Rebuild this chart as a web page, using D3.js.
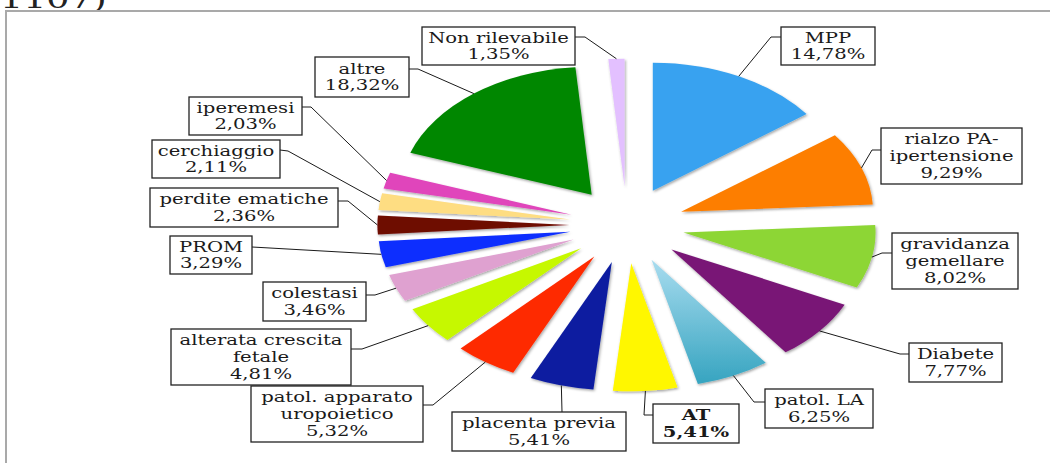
<!DOCTYPE html>
<html>
<head>
<meta charset="utf-8">
<script src="https://cdn.jsdelivr.net/npm/d3@7"></script>
<style>
  html, body { margin: 0; padding: 0; background: #fff; }
  svg { display: block; }
</style>
</head>
<body>
<svg id="chart" width="1050" height="463"></svg>
<script>
// ---- data ----
const categories = ["MPP", "rialzo PA-ipertensione", "gravidanza gemellare", "Diabete", "patol. LA", "AT",
  "placenta previa", "patol. apparato uropoietico", "alterata crescita fetale", "colestasi", "PROM",
  "perdite ematiche", "cerchiaggio", "iperemesi", "altre", "Non rilevabile"];
const values = [14.78, 9.29, 8.02, 7.77, 6.25, 5.41, 5.41, 5.32, 4.81, 3.46, 3.29, 2.36, 2.11, 2.03, 18.32, 1.35];
const labelLines = [["MPP"], ["rialzo PA-", "ipertensione"], ["gravidanza", "gemellare"], ["Diabete"], ["patol. LA"], ["AT"],
  ["placenta previa"], ["patol. apparato", "uropoietico"], ["alterata crescita", "fetale"], ["colestasi"], ["PROM"],
  ["perdite ematiche"], ["cerchiaggio"], ["iperemesi"], ["altre"], ["Non rilevabile"]];
const colors = ["#38a2f0", "#fd7e00", "#8dd634", "#791976", "url(#gradLA)", "#fff700",
  "#0b1ca0", "#fe2b00", "#c6f800", "#dfa1d0", "#0d2efe", "#6e0a00", "#fedd82", "#e044bb", "#028702", "#e3c0ff"];
const boldLabel = [false, false, false, false, false, true, false, false, false, false, false, false, false, false, false, false];

// ---- layout (label boxes: x, y, w, h, attachX, attachY, elbowX, elbowY) ----
const labelBoxes = [
  [781, 27, 94, 38, 781, 37, 771, 37],
  [881, 128, 141, 56, 881, 150, 872, 150],
  [892, 233, 126, 56, 892, 253, 882, 253],
  [909, 343, 93, 39, 909, 354, 900, 354],
  [765, 389, 108, 39, 765, 402, 754, 402],
  [653, 404, 86, 39, 653, 415, 644, 415],
  [452, 412, 174, 39, 562, 412, 562, 412],
  [251, 386, 172, 56, 423, 405, 433, 405],
  [171, 329, 180, 56, 351, 349, 362, 349],
  [263, 282, 103, 39, 366, 295, 375, 295],
  [170, 236, 82, 38, 252, 247, 252, 247],
  [150, 188, 188, 39, 338, 201, 348, 201],
  [152, 140, 128, 38, 280, 150, 288, 151],
  [189, 97, 113, 38, 302, 107, 311, 107],
  [315, 57, 94, 40, 409, 69, 418, 69],
  [422, 27, 153, 38, 575, 37, 585, 37]
];

const cx = 627, cy = 225, R = 128, sx = 1.5, explode = 0.3;
const textScale = 1.4;

const locale = d3.formatLocale({decimal: ",", thousands: ".", grouping: [3], currency: ["", "€"]});
const fmt = v => locale.format(".2f")(v) + "%";

const svg = d3.select("#chart");
const defs = svg.append("defs");
const grad = defs.append("linearGradient").attr("id", "gradLA")
  .attr("x1", 0).attr("y1", 0).attr("x2", 0).attr("y2", 1);
grad.append("stop").attr("offset", "0%").attr("stop-color", "#a8dcef");
grad.append("stop").attr("offset", "100%").attr("stop-color", "#36a4c0");
const filt = defs.append("filter").attr("id", "shadow").attr("x", "-20%").attr("y", "-20%").attr("width", "140%").attr("height", "140%");
filt.append("feDropShadow").attr("dx", 0.7).attr("dy", 1.5).attr("stdDeviation", 1.2)
  .attr("flood-color", "#000").attr("flood-opacity", 0.35);

// cut-off text at the top
svg.append("text").attr("x", 0).attr("y", 8)
  .attr("transform", "scale(1.4,1)")
  .attr("font-family", "DejaVu Serif").attr("font-size", 26).attr("fill", "#222")
  .text("1107)");

// frame
svg.append("rect").attr("x", 6).attr("y", 11).attr("width", 1100).attr("height", 500)
  .attr("fill", "none").attr("stroke", "#a9a9a9").attr("stroke-width", 2);

// pie
const pie = d3.pie().sort(null).value(d => d)(values);
const arc = d3.arc().innerRadius(0).outerRadius(R);
const g = svg.append("g").attr("transform", `translate(${cx},${cy}) scale(${sx},1)`);
g.selectAll("path").data(pie).join("path")
  .attr("d", arc)
  .attr("transform", d => {
    const m = (d.startAngle + d.endAngle) / 2;
    return `translate(${explode * R * Math.sin(m)},${-explode * R * Math.cos(m)})`;
  })
  .attr("fill", (d, i) => colors[i])
  .attr("filter", "url(#shadow)");

// leader lines
const anchor = d => {
  const m = (d.startAngle + d.endAngle) / 2;
  const r = (1 + explode) * R;
  return [cx + sx * r * Math.sin(m), cy - r * Math.cos(m)];
};
svg.append("g").selectAll("polyline").data(pie).join("polyline")
  .attr("points", (d, i) => {
    const b = labelBoxes[i];
    const a = anchor(d);
    return [[b[4], b[5]], [b[6], b[7]], a].map(p => p.join(",")).join(" ");
  })
  .attr("fill", "none").attr("stroke", "#1a1a1a").attr("stroke-width", 1);

// label boxes
const lg = svg.append("g").selectAll("g").data(pie).join("g");
lg.append("rect")
  .attr("x", (d, i) => labelBoxes[i][0]).attr("y", (d, i) => labelBoxes[i][1])
  .attr("width", (d, i) => labelBoxes[i][2]).attr("height", (d, i) => labelBoxes[i][3])
  .attr("fill", "#fff").attr("stroke", "#222").attr("stroke-width", 1.3);
const lh = 16.6;
lg.each(function(d, i) {
  const b = labelBoxes[i];
  const lines = labelLines[i].concat([fmt(values[i])]);
  const mx = b[0] + b[2] / 2, my = b[1] + b[3] / 2;
  const t = d3.select(this).append("text")
    .attr("transform", `translate(${mx},0) scale(${textScale},1)`)
    .attr("text-anchor", "middle")
    .attr("font-family", "DejaVu Serif").attr("font-size", 14)
    .attr("font-weight", boldLabel[i] ? "bold" : "normal")
    .attr("fill", "#1a1a1a");
  lines.forEach((s, k) => {
    t.append("tspan").attr("x", 0)
      .attr("y", my + (k - (lines.length - 1) / 2) * lh)
      .attr("dy", "0.36em").text(s);
  });
});
</script>
</body>
</html>
